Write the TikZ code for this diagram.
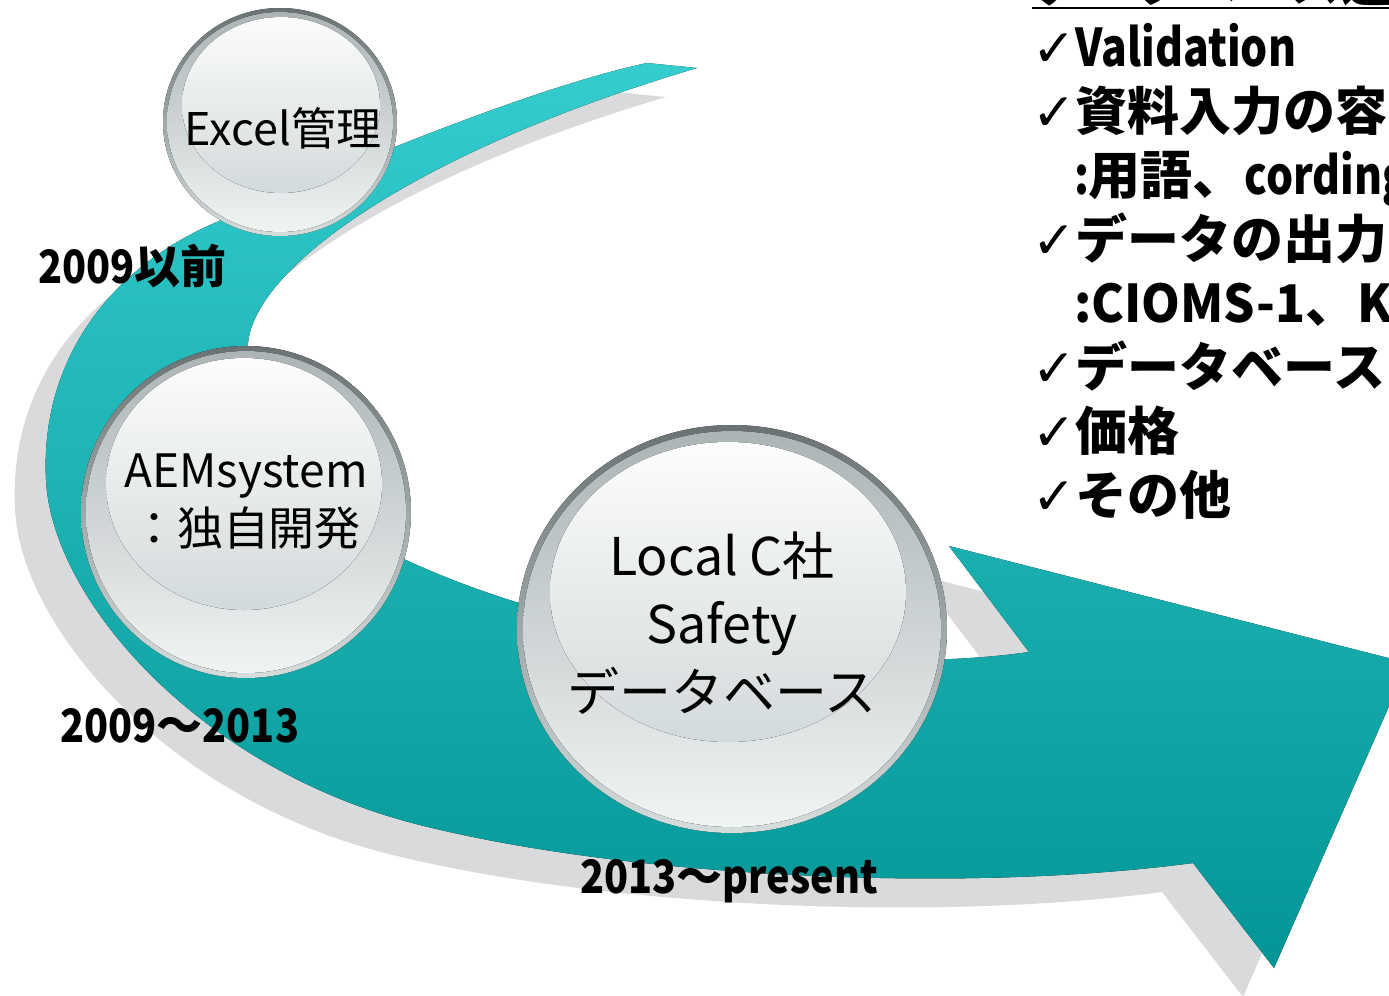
\documentclass[tikz,border=0pt]{standalone}
\usepackage{fontspec}
\usepackage{xcolor}
\usepackage{tikz}
\setmainfont{Noto Sans CJK JP}
\newfontfamily\symfont{DejaVu Sans}
\newfontfamily\numfont{Noto Sans CJK JP}[FakeStretch=0.86]
\newfontfamily\latinfont{Noto Sans CJK JP}[FakeStretch=0.82]
\newfontfamily\capsfont{Noto Sans CJK JP}[FakeStretch=0.95]
\definecolor{bandtop}{HTML}{34CCCD}
\definecolor{bandbot}{HTML}{049696}
\definecolor{shadowgray}{HTML}{D9DADC}
\definecolor{rimdark}{HTML}{6B7273}
\definecolor{rimlight}{HTML}{D5DDDD}
\definecolor{ringtop}{HTML}{ACB4B5}
\definecolor{ringbot}{HTML}{F0F4F4}
\definecolor{lenstop}{HTML}{FCFCFC}
\definecolor{lensbot}{HTML}{D3DADB}

\newcommand{\spiralband}{(647,63) .. controls (520,90) and (300,185) .. (210,225)
  .. controls (110,270) and (40,360) .. (46,480)
  .. controls (52,600) and (200,770) .. (420,825)
  .. controls (618,875) and (950,895) .. (1193,863)
  -- (1274,968) -- (1408,663) -- (949,546) -- (1029,652)
  .. controls (870,675) and (600,650) .. (406,560)
  .. controls (290,505) and (240,420) .. (248,343)
  .. controls (256,265) and (420,150) .. (697,68) -- cycle}

\tikzset{
  rim/.style={top color=rimdark,bottom color=rimlight},
  ring/.style={top color=ringtop,bottom color=ringbot},
  lens/.style={top color=lenstop,bottom color=lensbot},
  btntext/.style={align=center,inner sep=0pt},
  yearlabel/.style={anchor=base west,inner sep=0pt,font=\bfseries\fontsize{23}{23}\selectfont}
}

\begin{document}
\begin{tikzpicture}[x=0.5pt,y=-0.5pt]
  \useasboundingbox (0,0) rectangle (1389,996);
  % band and its shadow
  \fill[shadowgray,shift={(-31,29)}] \spiralband;
  \fill[top color=bandtop,bottom color=bandbot] \spiralband;

  % glass buttons
  \fill[rim]  (280,122) ellipse [x radius=117,y radius=114];
  \fill[ring] (280,122) ellipse [x radius=113,y radius=110];
  \fill[lens] (281,105) ellipse [x radius=99,y radius=88];
  \node[btntext,anchor=base,font=\fontsize{22.5}{22.5}\selectfont] (excel) at (283,145) {Excel管理};

  \fill[rim]  (246,512) ellipse [x radius=165,y radius=166];
  \fill[ring] (246,512) ellipse [x radius=160,y radius=161];
  \fill[lens] (244,484) ellipse [x radius=138,y radius=126];
  \node[btntext,font=\fontsize{23}{29}\selectfont] (aem) at (246,502) {AEMsystem\\：独自開発};

  \fill[rim]  (732,629) ellipse [x radius=215,y radius=204];
  \fill[ring] (732,629) ellipse [x radius=209,y radius=198];
  \fill[lens] (728,592) ellipse [x radius=178,y radius=150];
  \node[btntext,font=\fontsize{26}{34}\selectfont] (localdb) at (722,623) {Local C社\\Safety\\データベース};

  % period labels
  \node[yearlabel] (before) at (38,283) {{\numfont\bfseries 2009}以前};
  \node[yearlabel] (middle) at (60,742) {{\numfont\bfseries 2009}～{\numfont\bfseries 2013}};
  \node[yearlabel] (present) at (580,893) {{\numfont\bfseries 2013}～{\numfont\bfseries present}};

  % criteria list
  \node[anchor=base west,inner sep=0pt,font=\bfseries\fontsize{26}{26}\selectfont] (heading) at (1032,1) {データベース選定};
  \draw[line width=1pt] (heading.base west) ++(0,7) coordinate (ulstart) -- (1389,8);
  \node[anchor=base west,inner sep=0pt,align=left,font=\bfseries\fontsize{26}{32}\selectfont] (criteria) at (1032,514)
    {{\symfont ✓}{\latinfont\bfseries Validation}\\
     {\symfont ✓}資料入力の容\\
     \hspace*{0.8em}{\latinfont\bfseries :}用語、{\latinfont\bfseries cording}\\
     {\symfont ✓}データの出力お\\
     \hspace*{0.8em}{\capsfont\bfseries :CIOMS-1}、{\capsfont\bfseries K}\\
     {\symfont ✓}データベースと\\
     {\symfont ✓}価格\\
     {\symfont ✓}その他};
\end{tikzpicture}
\end{document}
